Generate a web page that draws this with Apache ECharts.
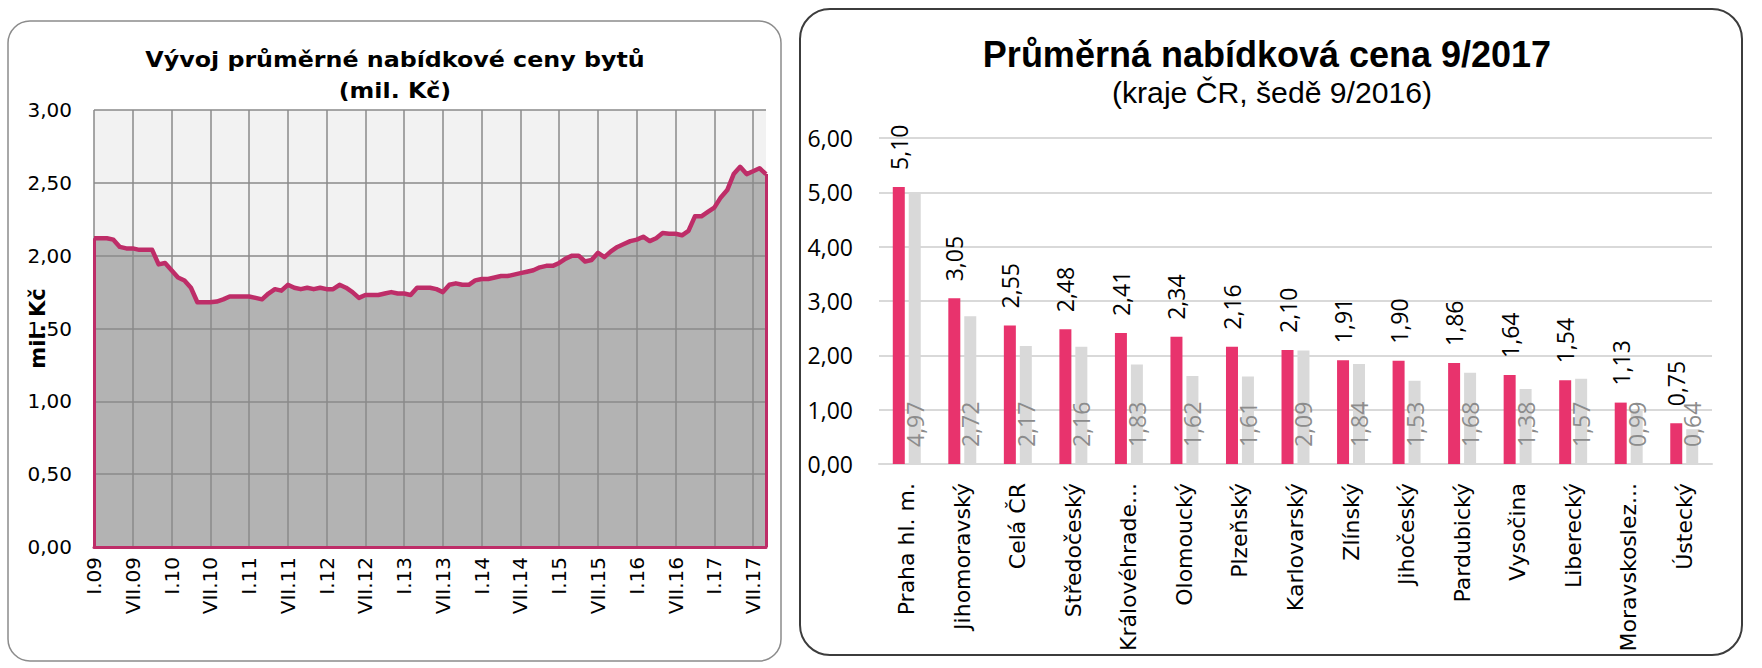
<!DOCTYPE html>
<html>
<head>
<meta charset="utf-8">
<script src="https://cdn.jsdelivr.net/npm/echarts@6/dist/echarts.min.js"></script>
<style>
html,body{margin:0;padding:0;background:#fff;}
#chart{width:1762px;height:668px;}
</style>
</head>
<body>
<div id="chart"></div>
<script>
// ---- Left chart: monthly average offer price (mil. Kč), I.09 .. IX.17
const monthLabels = [
  'I.09','II.09','III.09','IV.09','V.09','VI.09','VII.09','VIII.09','IX.09','X.09','XI.09','XII.09',
  'I.10','II.10','III.10','IV.10','V.10','VI.10','VII.10','VIII.10','IX.10','X.10','XI.10','XII.10',
  'I.11','II.11','III.11','IV.11','V.11','VI.11','VII.11','VIII.11','IX.11','X.11','XI.11','XII.11',
  'I.12','II.12','III.12','IV.12','V.12','VI.12','VII.12','VIII.12','IX.12','X.12','XI.12','XII.12',
  'I.13','II.13','III.13','IV.13','V.13','VI.13','VII.13','VIII.13','IX.13','X.13','XI.13','XII.13',
  'I.14','II.14','III.14','IV.14','V.14','VI.14','VII.14','VIII.14','IX.14','X.14','XI.14','XII.14',
  'I.15','II.15','III.15','IV.15','V.15','VI.15','VII.15','VIII.15','IX.15','X.15','XI.15','XII.15',
  'I.16','II.16','III.16','IV.16','V.16','VI.16','VII.16','VIII.16','IX.16','X.16','XI.16','XII.16',
  'I.17','II.17','III.17','IV.17','V.17','VI.17','VII.17','VIII.17','IX.17'
];
const avgPrice = [
  2.12, 2.12, 2.12, 2.11, 2.06, 2.05, 2.05, 2.04, 2.04, 2.04, 1.94, 1.95,
  1.90, 1.85, 1.83, 1.78, 1.68, 1.68, 1.68, 1.685, 1.70, 1.72, 1.72, 1.72,
  1.72, 1.71, 1.70, 1.74, 1.77, 1.76, 1.80, 1.78, 1.77, 1.78, 1.77, 1.78,
  1.77, 1.77, 1.80, 1.78, 1.75, 1.71, 1.73, 1.73, 1.73, 1.74, 1.75, 1.74,
  1.74, 1.73, 1.78, 1.78, 1.78, 1.77, 1.75, 1.80, 1.81, 1.80, 1.80, 1.83,
  1.84, 1.84, 1.85, 1.86, 1.86, 1.87, 1.88, 1.89, 1.90, 1.92, 1.93, 1.93,
  1.95, 1.98, 2.00, 2.00, 1.96, 1.97, 2.02, 1.99, 2.03, 2.06, 2.08, 2.10,
  2.11, 2.13, 2.10, 2.12, 2.155, 2.15, 2.15, 2.14, 2.17, 2.27, 2.27, 2.30,
  2.33, 2.40, 2.45, 2.56, 2.61, 2.56, 2.58, 2.60, 2.56
];

// ---- Right chart: regions, 9/2017 vs 9/2016
const regions = ['Praha hl. m.','Jihomoravský','Celá ČR','Středočeský','Královéhradecký','Olomoucký',
  'Plzeňský','Karlovarský','Zlínský','Jihočeský','Pardubický','Vysočina','Liberecký','Moravskoslezský','Ústecký'];
const price2017 = [5.10, 3.05, 2.55, 2.48, 2.41, 2.34, 2.16, 2.10, 1.91, 1.90, 1.86, 1.64, 1.54, 1.13, 0.75];
const price2016 = [4.97, 2.72, 2.17, 2.16, 1.83, 1.62, 1.61, 2.09, 1.84, 1.53, 1.68, 1.38, 1.57, 0.99, 0.64];

const leftTitle = ['Vývoj průměrné nabídkové ceny bytů', '(mil. Kč)'];
const rightTitle = 'Průměrná nabídková cena 9/2017';
const rightSubtitle = '(kraje ČR, šedě 9/2016)';

const fmt = v => Number(v).toFixed(2).replace('.', ',');
const MAGENTA = '#be2d68';
const PINK = '#e8336d';
const n = avgPrice.length;

const chart = echarts.init(document.getElementById('chart'), null, {renderer: 'svg'});
chart.setOption({
  animation: false,
  backgroundColor: '#ffffff',
  graphic: [
    {type: 'rect', z: -10, shape: {x: 8, y: 21, width: 773, height: 640, r: 22},
     style: {fill: 'none', stroke: '#8c8c8c', lineWidth: 1.5}},
    {type: 'rect', z: -10, shape: {x: 800, y: 9, width: 942, height: 646, r: 30},
     style: {fill: 'none', stroke: '#3c3c3c', lineWidth: 2}},
    {type: 'text', x: 395, y: 70, scaleX: 1.08, style: {text: leftTitle[0], textAlign: 'center', textVerticalAlign: 'bottom',
      font: 'bold 22px "DejaVu Sans"', fill: '#000'}},
    {type: 'text', x: 395, y: 101, scaleX: 1.08, style: {text: leftTitle[1], textAlign: 'center', textVerticalAlign: 'bottom',
      font: 'bold 22px "DejaVu Sans"', fill: '#000'}},
    {type: 'text', x: 1267, y: 72, style: {text: rightTitle, textAlign: 'center', textVerticalAlign: 'bottom',
      font: 'bold 36px "Liberation Sans", Arial, sans-serif', fill: '#000'}},
    {type: 'text', x: 1272, y: 107, scaleX: 1.04, style: {text: rightSubtitle, textAlign: 'center', textVerticalAlign: 'bottom',
      font: '29px "Liberation Sans", Arial, sans-serif', fill: '#000'}}
  ],
  grid: [
    {left: 94, top: 110, width: 672, height: 437, show: true, backgroundColor: '#f2f2f2', borderWidth: 0},
    {left: 879, top: 138, width: 833, height: 326}
  ],
  xAxis: [
    {type: 'category', gridIndex: 0, data: monthLabels, boundaryGap: false, z: 3,
     axisLine: {show: true, lineStyle: {color: MAGENTA, width: 3}},
     axisTick: {show: false},
     axisLabel: {interval: 5, rotate: 90, fontFamily: 'DejaVu Sans', fontSize: 20, color: '#000', margin: 10},
     splitLine: {show: true, interval: 5, lineStyle: {color: '#8a8a8a', width: 1.5}}},
    {type: 'category', gridIndex: 1, data: regions,
     axisLine: {show: true, lineStyle: {color: '#d9d9d9', width: 2}},
     axisTick: {show: false},
     axisLabel: {interval: 0, rotate: 90, fontFamily: 'DejaVu Sans', fontSize: 22, color: '#000', margin: 19,
       width: 179, overflow: 'truncate', ellipsis: '...'}}
  ],
  yAxis: [
    {type: 'value', gridIndex: 0, min: 0, max: 3, interval: 0.5, z: 3,
     name: 'mil. Kč', nameLocation: 'middle', nameGap: 46, nameMoveOverlap: false,
     nameTextStyle: {fontFamily: 'DejaVu Sans', fontWeight: 'bold', fontSize: 21, color: '#000'},
     axisLine: {show: false}, axisTick: {show: false},
     axisLabel: {formatter: fmt, fontFamily: 'DejaVu Sans', fontSize: 20, color: '#000', margin: 22},
     splitLine: {show: true, lineStyle: {color: '#8a8a8a', width: 1.5}}},
    {type: 'value', gridIndex: 1, min: 0, max: 6, interval: 1,
     axisLine: {show: false}, axisTick: {show: false},
     axisLabel: {formatter: fmt, fontFamily: 'Open Sans', fontSize: 23, color: '#000', margin: 26},
     splitLine: {show: true, lineStyle: {color: '#d9d9d9', width: 2}}}
  ],
  series: [
    {type: 'line', xAxisIndex: 0, yAxisIndex: 0, data: avgPrice, symbol: 'none', z: 1, silent: true,
     lineStyle: {width: 0, opacity: 0}, areaStyle: {color: '#b3b3b3', opacity: 1}},
    {type: 'line', xAxisIndex: 0, yAxisIndex: 0, data: avgPrice, symbol: 'none', z: 5, silent: true,
     lineStyle: {color: MAGENTA, width: 4.5, join: 'round'},
     markLine: {silent: true, symbol: 'none', label: {show: false},
       lineStyle: {color: MAGENTA, width: 3, type: 'solid'},
       data: [
         [{coord: [0, 0]}, {coord: [0, avgPrice[0]]}],
         [{coord: [n - 1, 0]}, {coord: [n - 1, avgPrice[n - 1]]}]
       ]}},
    {type: 'bar', xAxisIndex: 1, yAxisIndex: 1, data: price2017, barWidth: 12, barGap: '33%', z: 3,
     itemStyle: {color: PINK},
     label: {show: true, position: 'top', rotate: 90, align: 'left', verticalAlign: 'middle', distance: 17,
       formatter: p => fmt(p.value), fontFamily: 'Open Sans', fontSize: 23, color: '#000'}},
    {type: 'bar', xAxisIndex: 1, yAxisIndex: 1, data: price2016, barWidth: 12, z: 2,
     itemStyle: {color: '#d9d9d9'},
     label: {show: true, position: 'insideBottom', rotate: 90, align: 'left', verticalAlign: 'middle', distance: 17,
       formatter: p => fmt(p.value), fontFamily: 'Open Sans', fontSize: 23, color: '#8c8c8c'}}
  ]
});
</script>
</body>
</html>
